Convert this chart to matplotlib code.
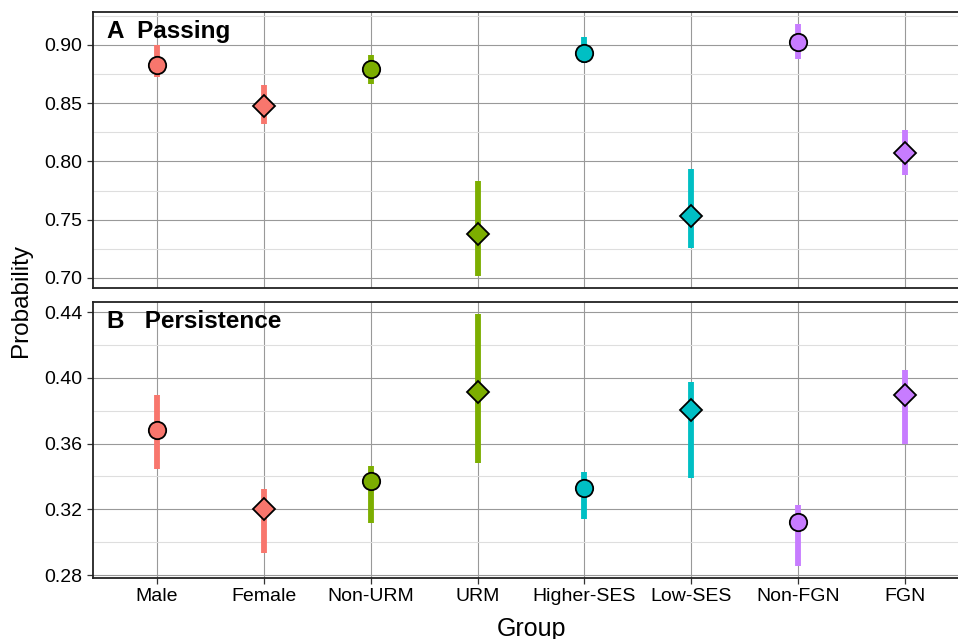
import matplotlib.pyplot as plt
import numpy as np
from matplotlib.ticker import MultipleLocator

plt.rcParams['font.family'] = ['Liberation Sans', 'DejaVu Sans']

groups = ["Male", "Female", "Non-URM", "URM", "Higher-SES", "Low-SES", "Non-FGN", "FGN"]
colors = ["#F8766D", "#F8766D", "#7CAE00", "#7CAE00", "#00BFC4", "#00BFC4", "#C77CFF", "#C77CFF"]
markers = ["o", "D", "o", "D", "o", "D", "o", "D"]

# panel A: passing
pass_est = [0.8828, 0.8476, 0.8791, 0.7375, 0.8928, 0.7535, 0.9026, 0.8073]
pass_lo = [0.8725, 0.8323, 0.8665, 0.7017, 0.8842, 0.7254, 0.8880, 0.7887]
pass_hi = [0.9000, 0.8657, 0.8914, 0.7833, 0.9066, 0.7936, 0.9180, 0.8270]

# panel B: persistence
pers_est = [0.3682, 0.3200, 0.3372, 0.3915, 0.3331, 0.3804, 0.3120, 0.3895]
pers_lo = [0.3445, 0.2932, 0.3114, 0.3483, 0.3138, 0.3392, 0.2853, 0.3599]
pers_hi = [0.3895, 0.3323, 0.3462, 0.4388, 0.3428, 0.3972, 0.3226, 0.4047]

fig = plt.figure(figsize=(9.58, 6.39), dpi=100)
axA = fig.add_axes([0.0971, 0.5493, 0.9144, 0.4319])
axB = fig.add_axes([0.0971, 0.0955, 0.9144, 0.4319])

x = np.arange(1, len(groups) + 1)


def draw_panel(ax, est, lo, hi, ylim, major, minor, title):
    ax.set_xlim(0.4, 8.6)
    ax.set_ylim(*ylim)
    ax.yaxis.set_major_locator(MultipleLocator(major))
    ax.yaxis.set_minor_locator(MultipleLocator(minor))
    ax.set_xticks(x)
    ax.grid(True, which="major", color="#999999", linewidth=0.8)
    ax.grid(True, which="minor", axis="y", color="#dedede", linewidth=0.8)
    ax.set_axisbelow(True)
    for i in range(len(groups)):
        ax.plot([x[i], x[i]], [lo[i], hi[i]], color=colors[i], linewidth=4.2,
                solid_capstyle="butt", zorder=3)
        ms = 12.5 if markers[i] == "o" else 11
        ax.plot(x[i], est[i], marker=markers[i], color=colors[i], markersize=ms,
                markeredgecolor="black", markeredgewidth=1.3, zorder=4, linestyle="none")
    for s in ax.spines.values():
        s.set_color("#222222")
        s.set_linewidth(1.3)
    ax.spines["right"].set_visible(False)
    ax.tick_params(axis="y", which="minor", length=0)
    ax.tick_params(axis="both", which="major", labelsize=14, length=4, width=0.9, color="#333333")
    ax.text(0.016, 0.93, title, transform=ax.transAxes, fontsize=17.5, fontweight="bold",
            va="center", ha="left")


draw_panel(axA, pass_est, pass_lo, pass_hi, (0.6914, 0.9283), 0.05, 0.025, "A  Passing")
axA.yaxis.set_major_formatter(lambda v, p: f"{v:.2f}")
axA.tick_params(axis="x", length=0, labelbottom=False)

draw_panel(axB, pers_est, pers_lo, pers_hi, (0.2782, 0.4461), 0.04, 0.02, "B   Persistence")
axB.yaxis.set_major_formatter(lambda v, p: f"{v:.2f}")
axB.set_xticklabels(groups)
axB.set_xlabel("Group", fontsize=18, labelpad=8)

fig.text(0.022, 0.53, "Probability", rotation=90, fontsize=17.5, va="center", ha="center")

fig.savefig("out.png", dpi=100)
